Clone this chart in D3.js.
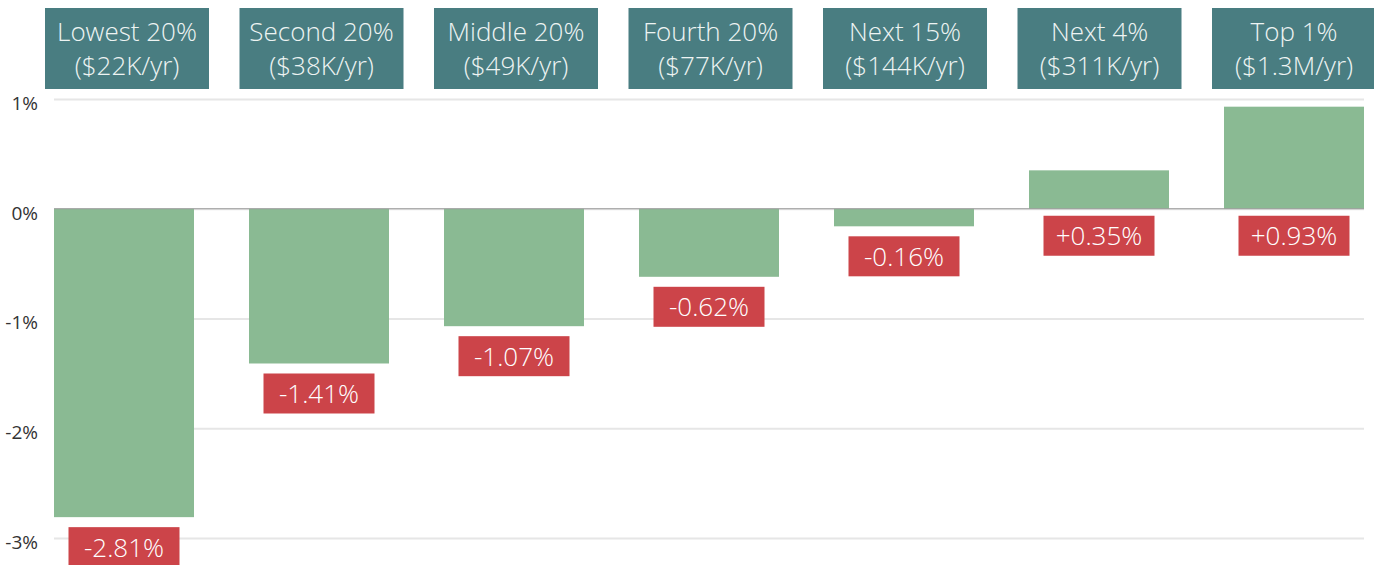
<!DOCTYPE html>
<html><head><meta charset="utf-8">
<script src="https://cdn.jsdelivr.net/npm/d3@7"></script>
<style>
html,body{margin:0;padding:0;background:#fff;}
svg{display:block;font-family:"Open Sans",sans-serif;}
</style></head>
<body>
<svg id="chart" width="1374" height="565"></svg>
<script>
const groups = ["Lowest 20%","Second 20%","Middle 20%","Fourth 20%","Next 15%","Next 4%","Top 1%"];
const incomes = ["($22K/yr)","($38K/yr)","($49K/yr)","($77K/yr)","($144K/yr)","($311K/yr)","($1.3M/yr)"];
const changes = [-2.81,-1.41,-1.07,-0.62,-0.16,0.35,0.93];
const changeLabels = ["-2.81%","-1.41%","-1.07%","-0.62%","-0.16%","+0.35%","+0.93%"];
const yTicks = [1,0,-1,-2,-3];
const yTickLabels = ["1%","0%","-1%","-2%","-3%"];

const svg = d3.select("#chart");
const x = d3.scaleBand().domain(groups).range([54,1364]).paddingInner(55/195).paddingOuter(0);
const xh = d3.scaleBand().domain(groups).range([45,1376]).paddingInner(30.5/194.5).paddingOuter(0);
const y = d3.scaleLinear().domain([-3,1]).range([538,99]);

// gridlines + tick labels
const yAxis = d3.axisLeft(y).tickValues(yTicks).tickSize(-(1364-54)).tickFormat((d,i)=>yTickLabels[i]);
const ga = svg.append("g").attr("transform","translate(54,0)").call(yAxis);
ga.select(".domain").remove();
ga.selectAll(".tick line").attr("stroke","#e6e6e6").attr("stroke-width",2);
ga.selectAll(".tick text").attr("x",-16).attr("dy","0.55em").attr("font-size",19).attr("fill","#333")
  .attr("font-family","'Open Sans',sans-serif");

// bars
svg.append("g").selectAll("rect").data(changes).join("rect")
  .attr("x",(d,i)=>x(groups[i]))
  .attr("width",x.bandwidth())
  .attr("y",d=>Math.min(y(d),y(0)))
  .attr("height",d=>Math.abs(y(d)-y(0)))
  .attr("fill","#8aba93");

// zero line on top of bars
svg.append("line").attr("x1",54).attr("x2",1364).attr("y1",y(0)).attr("y2",y(0))
  .attr("stroke","#9a9a9a").attr("stroke-width",1.2);

// value labels
const lw = 111, lh = 40;
const lg = svg.append("g").selectAll("g").data(changes).join("g")
  .attr("transform",(d,i)=>{
    const cx = x(groups[i]) + x.bandwidth()/2;
    const top = d < 0 ? y(d) + 10 : y(0) + 7;
    return `translate(${cx},${top})`;
  });
lg.append("rect").attr("x",-lw/2).attr("width",lw).attr("height",lh).attr("fill","#cc4449");
lg.append("text").attr("y",lh/2).attr("dy","0.36em").attr("text-anchor","middle")
  .attr("font-size",26).attr("font-weight",300).attr("fill","#fff").text((d,i)=>changeLabels[i]);

// header boxes
const hg = svg.append("g").selectAll("g").data(groups).join("g")
  .attr("transform",d=>`translate(${xh(d)},8)`);
hg.append("rect").attr("width",xh.bandwidth()).attr("height",81).attr("fill","#497d81");
hg.append("text").attr("x",xh.bandwidth()/2).attr("y",24).attr("dy","0.36em").attr("text-anchor","middle")
  .attr("font-size",26).attr("font-weight",300).attr("fill","#eef4f3").text(d=>d);
hg.append("text").attr("x",xh.bandwidth()/2).attr("y",58).attr("dy","0.36em").attr("text-anchor","middle")
  .attr("font-size",26).attr("font-weight",300).attr("fill","#eef4f3").text((d,i)=>incomes[i]);
</script>
</body></html>
